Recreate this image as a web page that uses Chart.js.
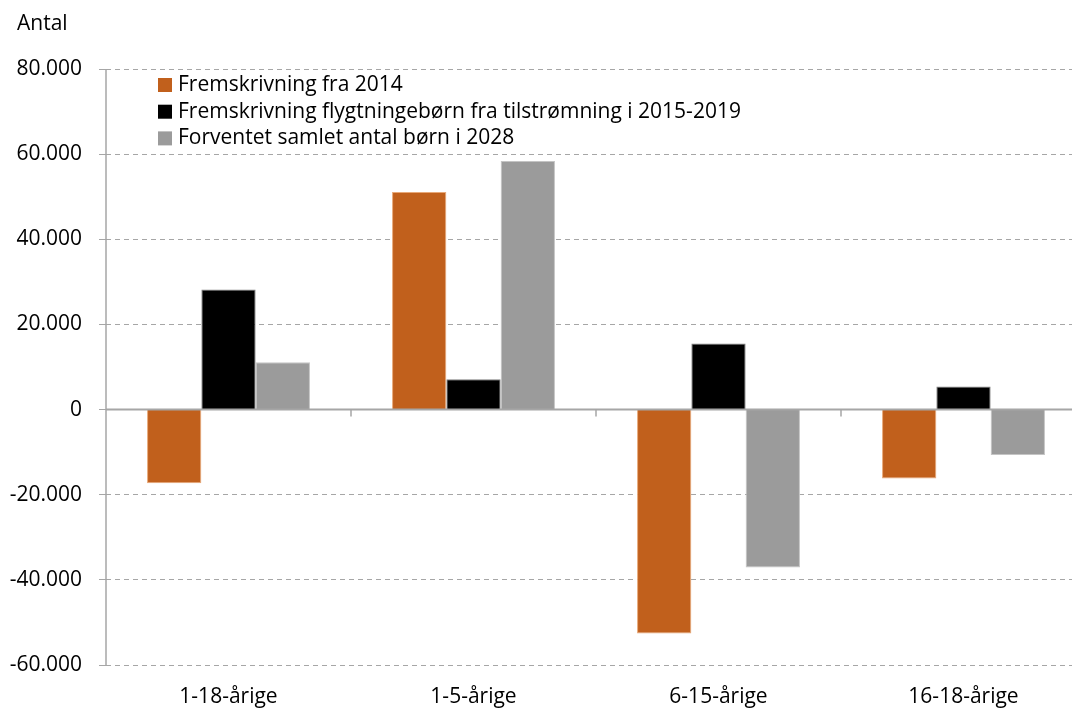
<!DOCTYPE html>
<html>
<head>
<meta charset="utf-8">
<script src="https://cdn.jsdelivr.net/npm/chart.js@4/dist/chart.umd.min.js"></script>
<style>
html,body{margin:0;padding:0;background:#fff;overflow:hidden;}
#wrap{position:relative;width:1100px;height:711px;}
</style>
</head>
<body>
<div id="wrap"><canvas id="c" width="1100" height="711"></canvas></div>
<script>
const categories = ["1-18-årige", "1-5-årige", "6-15-årige", "16-18-årige"];
const seriesNames = ["Fremskrivning fra 2014", "Fremskrivning flygtningebørn fra tilstrømning i 2015-2019", "Forventet samlet antal børn i 2028"];
const fremskrivning2014 = [-17300, 51100, -52600, -16200];
const flygtningeboern = [28200, 7100, 15500, 5400];
const samletAntal = [11100, 58400, -37100, -10700];
const yAxisTitle = "Antal";
const yMin = -60000, yMax = 80000, yStep = 20000;

const FONT = "'Open Sans', Lato, sans-serif";
const FSIZE = 21;
const colors = ["#C1601C", "#000000", "#9B9B9B"];
const borders = ["#E8A878", "#7F7F7F", "#C4C4C4"];

function fmt(v){
  const neg = v < 0; v = Math.abs(v);
  let s = v.toString();
  if (v >= 1000) s = Math.floor(v/1000) + "." + String(v%1000).padStart(3,"0");
  return (neg ? "-" : "") + s;
}

const overlay = {
  id: "overlay",
  afterDatasetsDraw(chart){
    const ctx = chart.ctx, ca = chart.chartArea;
    const y = chart.scales.y, x = chart.scales.x;
    const y0 = y.getPixelForValue(0);
    ctx.save();
    ctx.strokeStyle = "#A6A6A6";
    // y axis line (solid)
    ctx.lineWidth = 1.5;
    ctx.beginPath(); ctx.moveTo(ca.left, ca.top); ctx.lineTo(ca.left, ca.bottom); ctx.stroke();
    // zero line
    ctx.lineWidth = 2;
    ctx.beginPath(); ctx.moveTo(ca.left, y0); ctx.lineTo(ca.right, y0); ctx.stroke();
    // category boundary ticks
    ctx.lineWidth = 1.5;
    for (let i = 1; i < categories.length; i++){
      const bx = (x.getPixelForValue(i-1) + x.getPixelForValue(i)) / 2;
      ctx.beginPath(); ctx.moveTo(bx, y0); ctx.lineTo(bx, y0 + 7); ctx.stroke();
    }
    // y axis title
    ctx.fillStyle = "#000";
    ctx.font = FSIZE + "px " + FONT;
    ctx.textBaseline = "middle";
    ctx.textAlign = "left";
    ctx.fillText(yAxisTitle, 17, 24);
    // legend inside plot
    const lx = ca.left + 52, ly = ca.top + 16, rowH = 26.7;
    chart.data.datasets.forEach((ds, i) => {
      const cy = ly + i * rowH;
      ctx.fillStyle = ds.backgroundColor;
      ctx.fillRect(lx, cy - 7, 14, 14);
      ctx.fillStyle = "#000";
      ctx.fillText(ds.label, lx + 20, cy);
    });
    ctx.restore();
  }
};

new Chart(document.getElementById("c"), {
  type: "bar",
  data: {
    labels: categories,
    datasets: [
      {label: seriesNames[0], data: fremskrivning2014, backgroundColor: colors[0], borderColor: borders[0], borderWidth: 1},
      {label: seriesNames[1], data: flygtningeboern, backgroundColor: colors[1], borderColor: borders[1], borderWidth: 1},
      {label: seriesNames[2], data: samletAntal, backgroundColor: colors[2], borderColor: borders[2], borderWidth: 1}
    ]
  },
  options: {
    responsive: false,
    animation: false,
    devicePixelRatio: 1,
    layout: {padding: {top: 69, right: 14, bottom: 0, left: 0}},
    datasets: {bar: {categoryPercentage: 0.665, barPercentage: 1.0}},
    plugins: {legend: {display: false}, tooltip: {enabled: false}, title: {display: false}},
    scales: {
      x: {
        grid: {display: false, drawTicks: false},
        border: {display: false},
        ticks: {color: "#000", font: {family: FONT, size: FSIZE}, padding: 19, maxRotation: 0},
        afterFit(s){ s.height = 46; }
      },
      y: {
        min: yMin, max: yMax,
        grid: {color: "#A6A6A6", lineWidth: 1, tickLength: 7, tickColor: "#A6A6A6", tickBorderDash: []},
        border: {display: false, dash: [5, 4]},
        ticks: {stepSize: yStep, color: "#000", font: {family: FONT, size: FSIZE}, padding: 17, callback: v => fmt(v)},
        afterFit(s){ s.width = 106; }
      }
    }
  },
  plugins: [overlay]
});
</script>
</body>
</html>
